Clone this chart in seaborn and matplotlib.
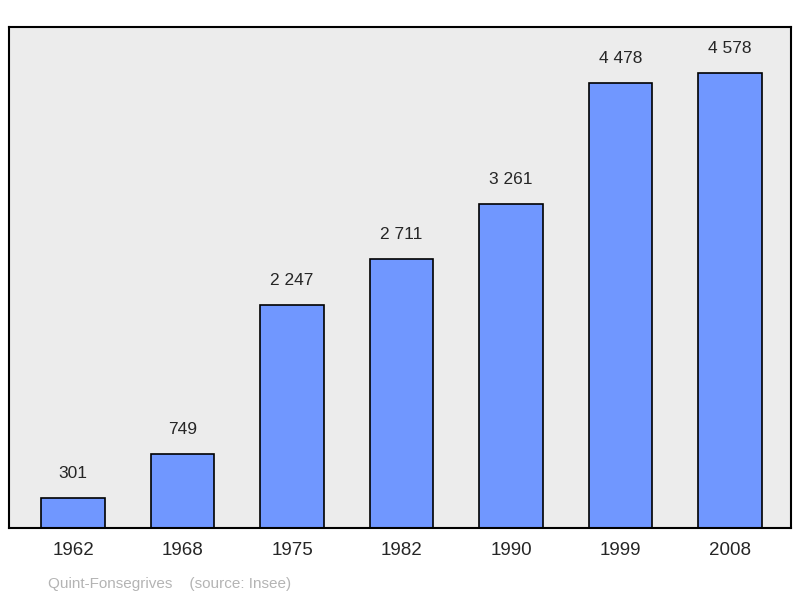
import seaborn as sns
import matplotlib.pyplot as plt
import pandas as pd

years = ['1962', '1968', '1975', '1982', '1990', '1999', '2008']
population = [301, 749, 2247, 2711, 3261, 4478, 4578]

sns.set_style('white')
plt.rcParams['font.family'] = ['Liberation Sans', 'DejaVu Sans']

df = pd.DataFrame({'year': years, 'pop': population})

fig = plt.figure(figsize=(8, 5.98), dpi=100)
ax = fig.add_axes([9 / 800, 70 / 598, 782 / 800, 501 / 598])
ax.set_facecolor('#ececec')
sns.barplot(data=df, x='year', y='pop', ax=ax, color='#7097ff', saturation=1,
            width=0.58, edgecolor='black', linewidth=1.2)

for i, v in enumerate(population):
    ax.text(i, v + 170, f'{v:,}'.replace(',', ' '), ha='center', va='bottom', fontsize=12.5)

ax.set_xlim(-0.585, 6.557)
ax.set_ylim(0, 5040)
ax.set_yticks([])
ax.set_xlabel('')
ax.set_ylabel('')
ax.tick_params(axis='x', labelsize=13.5, length=0, pad=10)
for s in ax.spines.values():
    s.set_linewidth(1.5)
    s.set_color('black')

fig.text(48 / 800, 1 - 584 / 598, 'Quint-Fonsegrives    (source: Insee)', color='#b4b4b4',
         fontsize=11, va='center')

fig.savefig('out.png', dpi=100)
